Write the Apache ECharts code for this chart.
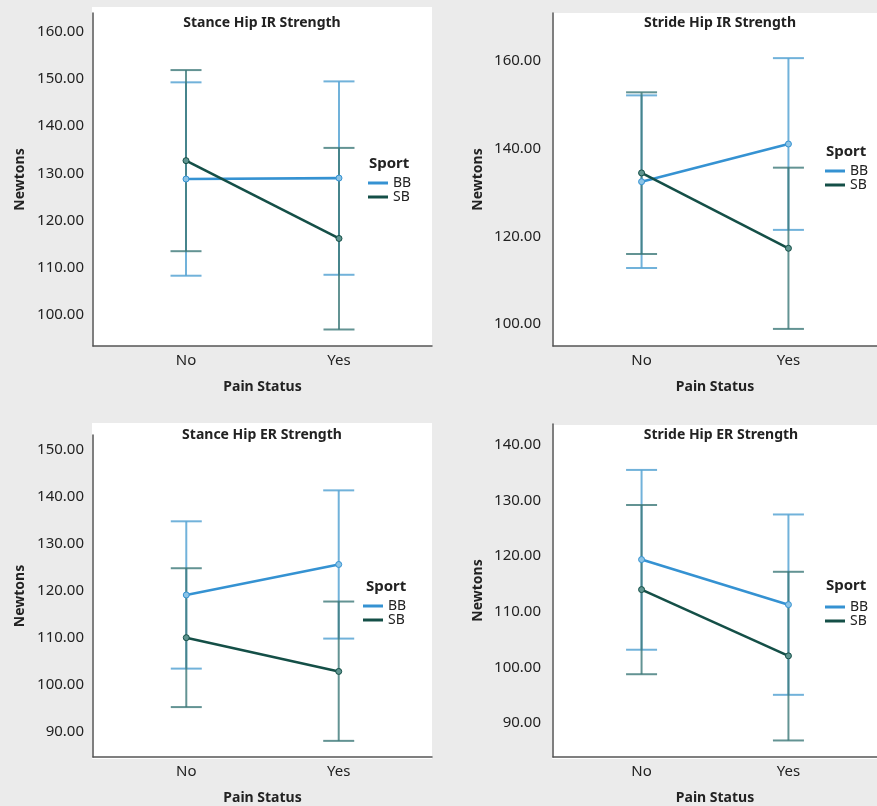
<!DOCTYPE html>
<html>
<head>
<meta charset="utf-8">
<script src="https://cdn.jsdelivr.net/npm/echarts@6/dist/echarts.min.js"></script>
<style>
html,body{margin:0;padding:0;background:#ebebeb;}
#chart{width:877px;height:806px;}
</style>
</head>
<body>
<div id="chart"></div>
<script>
// ---- data ----
const categories = ['No', 'Yes'];
const sports = ['BB', 'SB'];
const panelTitles = ['Stance Hip IR Strength', 'Stride Hip IR Strength', 'Stance Hip ER Strength', 'Stride Hip ER Strength'];

// Panel 1: Stance Hip IR
const bbMean1 = [128.8, 129.0], bbLow1 = [108.3, 108.5], bbHigh1 = [149.3, 149.5];
const sbMean1 = [132.7, 116.2], sbLow1 = [113.5, 96.9], sbHigh1 = [151.9, 135.4];
// Panel 2: Stride Hip IR
const bbMean2 = [132.5, 141.1], bbLow2 = [112.8, 121.5], bbHigh2 = [152.2, 160.7];
const sbMean2 = [134.5, 117.3], sbLow2 = [116.0, 98.9], sbHigh2 = [152.9, 135.7];
// Panel 3: Stance Hip ER
const bbMean3 = [119.1, 125.6], bbLow3 = [103.4, 109.8], bbHigh3 = [134.8, 141.4];
const sbMean3 = [110.0, 102.8], sbLow3 = [95.2, 88.0], sbHigh3 = [124.8, 117.7];
// Panel 4: Stride Hip ER
const bbMean4 = [119.4, 111.3], bbLow4 = [103.2, 95.1], bbHigh4 = [135.5, 127.5];
const sbMean4 = [114.0, 102.1], sbLow4 = [98.8, 86.9], sbHigh4 = [129.2, 117.2];

// y tick labels per panel
const yTicks1 = [100, 110, 120, 130, 140, 150, 160];
const yTicks2 = [100, 120, 140, 160];
const yTicks3 = [90, 100, 110, 120, 130, 140, 150];
const yTicks4 = [90, 100, 110, 120, 130, 140];

// ---- layout / style ----
const FONT = '"Noto Sans", "Open Sans", sans-serif';
const BB_LINE = '#3592d2', BB_ERR = 'rgba(88,165,212,0.85)', BB_PT = '#8cc4e6';
const SB_LINE = '#144f47', SB_ERR = 'rgba(60,120,120,0.8)', SB_PT = '#5f9590';

const panels = [
  {grid:{left:93, top:13, width:339, height:333}, ymin:93.4, ymax:164.0, ticks:yTicks1, xmin:-0.608, xmax:1.608, lblMargin:9, nameGap:66,
   bb:[bbMean1,bbLow1,bbHigh1], sb:[sbMean1,sbLow1,sbHigh1],
   bg:[92,7,340,339], title:[262,23], sport:[369,164], legendPos:[368,176]},
  {grid:{left:553, top:13, width:337, height:333}, ymin:95.0, ymax:171.0, ticks:yTicks2, xmin:-0.603, xmax:1.603, lblMargin:12, nameGap:68,
   bb:[bbMean2,bbLow2,bbHigh2], sb:[sbMean2,sbLow2,sbHigh2],
   bg:[552,13,330,333], title:[720,23], sport:[826,152], legendPos:[825,164]},
  {grid:{left:93, top:435, width:339, height:324}, ymin:84.56, ymax:153.2, ticks:yTicks3, xmin:-0.612, xmax:1.612, lblMargin:9, nameGap:66,
   bb:[bbMean3,bbLow3,bbHigh3], sb:[sbMean3,sbLow3,sbHigh3],
   bg:[92,423,340,336], title:[262,435], sport:[366,587], legendPos:[363,599]},
  {grid:{left:553, top:424, width:337, height:335}, ymin:83.93, ymax:143.75, ticks:yTicks4, xmin:-0.603, xmax:1.603, lblMargin:12, nameGap:68,
   bb:[bbMean4,bbLow4,bbHigh4], sb:[sbMean4,sbLow4,sbHigh4],
   bg:[552,425,330,334], title:[721,435], sport:[826,586], legendPos:[825,600]}
];

function errorRender(color) {
  return function (params, api) {
    const x = api.value(0);
    const lo = api.coord([x, api.value(1)]);
    const hi = api.coord([x, api.value(2)]);
    const hw = 15.5;
    const style = {stroke: color, lineWidth: 2};
    return {
      type: 'group',
      children: [
        {type: 'line', shape: {x1: lo[0], y1: lo[1], x2: hi[0], y2: hi[1]}, style: style},
        {type: 'line', shape: {x1: lo[0] - hw, y1: lo[1], x2: lo[0] + hw, y2: lo[1]}, style: style},
        {type: 'line', shape: {x1: hi[0] - hw, y1: hi[1], x2: hi[0] + hw, y2: hi[1]}, style: style}
      ]
    };
  };
}

const grids = [], xAxes = [], yAxes = [], series = [], legends = [], graphics = [];

panels.forEach((p, i) => {
  grids.push(Object.assign({containLabel: false}, p.grid));
  xAxes.push({
    type: 'value', gridIndex: i, min: p.xmin, max: p.xmax,
    name: 'Pain Status', nameLocation: 'middle', nameGap: 34,
    nameTextStyle: {fontFamily: FONT, fontSize: 14, fontWeight: 'bold', color: '#222'},
    axisLine: {show: true, onZero: false, lineStyle: {color: '#555', width: 1.5}},
    axisTick: {show: false}, splitLine: {show: false},
    axisLabel: {customValues: [0, 1], formatter: v => categories[Math.round(v)], margin: 7,
      fontFamily: FONT, fontSize: 15, color: '#222'}
  });
  yAxes.push({
    type: 'value', gridIndex: i, min: p.ymin, max: p.ymax,
    name: 'Newtons', nameLocation: 'middle', nameGap: p.nameGap,
    nameTextStyle: {fontFamily: FONT, fontSize: 14, fontWeight: 'bold', color: '#222'},
    axisLine: {show: true, onZero: false, lineStyle: {color: '#555', width: 1.5}},
    axisTick: {show: false}, splitLine: {show: false},
    axisLabel: {customValues: p.ticks, formatter: v => Number(v).toFixed(2), margin: p.lblMargin,
      padding: [4, 0, 0, 0],
      fontFamily: FONT, fontSize: 15, color: '#222'}
  });

  const groups = [
    {name: 'BB', d: p.bb, line: BB_LINE, err: BB_ERR, pt: BB_PT},
    {name: 'SB', d: p.sb, line: SB_LINE, err: SB_ERR, pt: SB_PT}
  ];
  groups.forEach((g, k) => {
    const [mean, low, high] = g.d;
    series.push({
      name: g.name + ' CI', type: 'custom', xAxisIndex: i, yAxisIndex: i,
      renderItem: errorRender(g.err), encode: {x: 0, y: [1, 2]}, z: 1 + k,
      silent: true,
      data: categories.map((c, j) => [j, low[j], high[j]])
    });
  });
  groups.forEach((g, k) => {
    const [mean] = g.d;
    series.push({
      name: g.name, type: 'line', xAxisIndex: i, yAxisIndex: i, z: 5 + k,
      color: g.line,
      lineStyle: {color: g.line, width: 2.6},
      symbol: 'circle', symbolSize: 6,
      itemStyle: {color: g.pt, borderColor: g.line, borderWidth: 1},
      data: categories.map((c, j) => [j, mean[j]])
    });
  });

  legends.push({
    data: sports.map((s, k) => ({name: s, itemStyle: {color: k === 0 ? BB_LINE : SB_LINE, borderWidth: 0}})),
    orient: 'vertical', left: p.legendPos[0], top: p.legendPos[1],
    itemWidth: 20, itemHeight: 3, itemGap: 0, itemTextGap: 3, icon: 'rect', padding: 0,
    selectedMode: false,
    itemStyle: {borderWidth: 0},
    textStyle: {fontFamily: FONT, fontSize: 14, color: '#222', lineHeight: 14}
  });

  graphics.push({
    type: 'rect', z: -10, silent: true,
    shape: {x: p.bg[0], y: p.bg[1], width: p.bg[2], height: p.bg[3]},
    style: {fill: '#ffffff'}
  });
  graphics.push({
    type: 'text', z: 10, silent: true, x: p.title[0], y: p.title[1],
    style: {text: panelTitles[i], textAlign: 'center', textVerticalAlign: 'middle',
      font: 'bold 14px ' + FONT, fill: '#222'}
  });
  graphics.push({
    type: 'text', z: 10, silent: true, x: p.sport[0], y: p.sport[1],
    style: {text: 'Sport', textAlign: 'left', textVerticalAlign: 'middle',
      font: 'bold 15px ' + FONT, fill: '#222'}
  });
});

const chart = echarts.init(document.getElementById('chart'), null, {renderer: 'canvas'});
chart.setOption({
  backgroundColor: '#ebebeb',
  animation: false,
  grid: grids, xAxis: xAxes, yAxis: yAxes,
  legend: legends, graphic: graphics, series: series
});
</script>
</body>
</html>
